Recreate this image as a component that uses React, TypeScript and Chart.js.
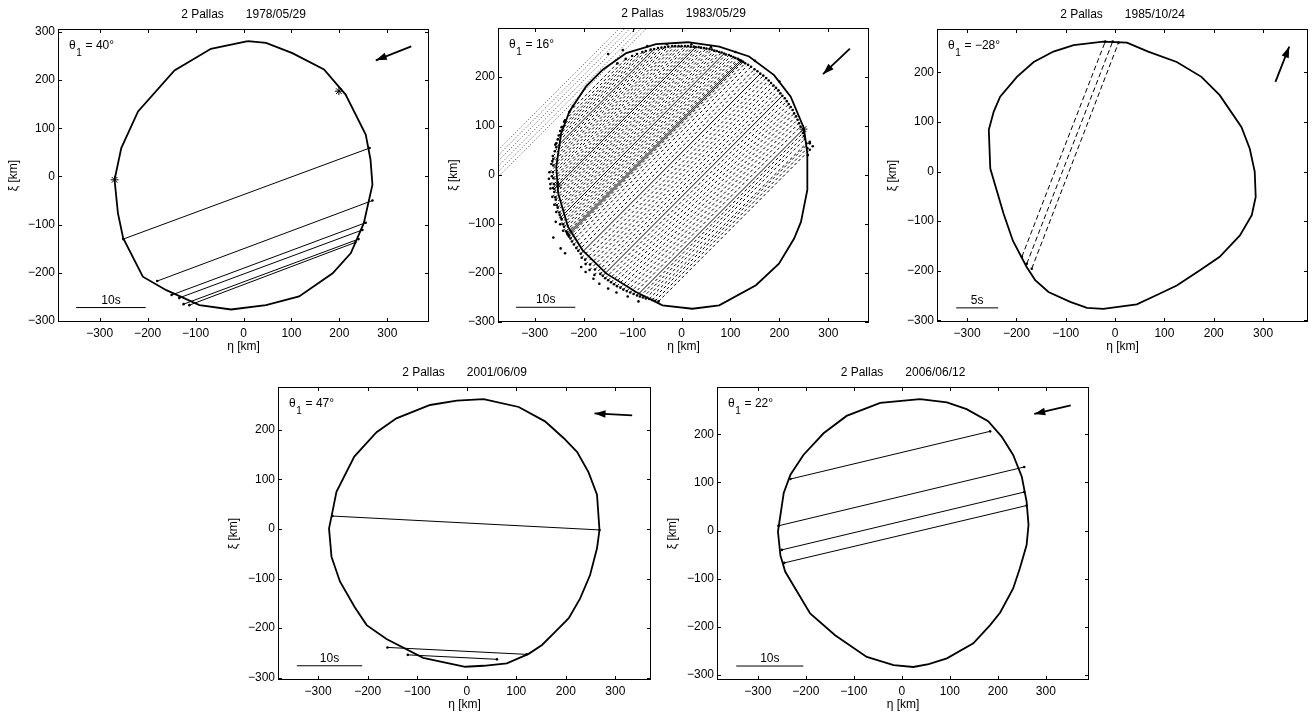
import React, { useEffect, useRef } from "react";
import { Chart, registerables } from "chart.js";

Chart.register(...registerables);

const FONT = "'Liberation Sans', Arial, Helvetica, sans-serif";
const TICK_VALUES = [-300, -200, -100, 0, 100, 200, 300];

// ---------- 2 Pallas 1978/05/29 ----------
const P1_ETA = [9, 47, 102, 168, 213, 255, 265, 269, 251, 224, 186, 116, 47, -26, -92, -161, -210, -251, -262, -269, -255, -220, -144, -68, 9];
const P1_XI = [281, 277, 256, 222, 170, 87, 35, -17, -97, -159, -201, -249, -267, -276, -267, -236, -208, -128, -76, -7, 59, 135, 220, 265, 281];
const P1_SOLID = [
  [-251, -130, 263, 59],
  [-180, -217, 269, -50],
  [-150, -246, 255, -96],
  [-134, -252, 248, -111],
  [-125, -265, 240, -130],
  [-113, -267, 233, -137],
];
const P1_STARS = [[-269, -7], [199, 177]];
const P1_ARROW = [[350, 270], [276, 241]];
const P1_BAR = [[-349, -272], [-204, -272]];

// ---------- 2 Pallas 1983/05/29 ----------
const P2_ETA = [13, 77, 138, 189, 223, 250, 257, 257, 244, 230, 199, 152, 77, 22, -39, -93, -154, -202, -232, -252, -256, -246, -229, -195, -161, -113, -52, 13];
const P2_XI = [270, 261, 241, 203, 159, 95, 44, -31, -96, -130, -181, -225, -266, -273, -266, -239, -201, -154, -106, -38, 16, 84, 129, 180, 214, 248, 266, 270];
const P2_SOLID = [
  [-256, 56, -56, 256],
  [-260, -29, 29, 260],
  [-247, -87, 87, 247],
  [-233, -121, 121, 233],
  [-231, -123, 123, 231],
  [-206, -161, 161, 206],
  [-161, -206, 206, 161],
  [-91, -246, 249, 93],
];
const P2_DASHED = [
  [-229, 128, -131, 227], [-238, 111, -114, 236], [-245, 97, -101, 242], [-248, 89, -91, 246],
  [-251, 80, -80, 250], [-253, 72, -73, 252], [-258, 61, -63, 255], [-259, 48, -48, 258],
  [-263, 38, -41, 259], [-262, 32, -34, 260], [-266, 22, -27, 261], [-262, 19, -19, 262],
  [-270, 5, -13, 262], [-263, 5, -6, 262], [-265, -3, 0, 262], [-262, -7, 7, 262],
  [-268, -19, 13, 262], [-261, -19, 19, 261], [-263, -27, 25, 261], [-260, -35, 35, 260],
  [-264, -45, 40, 259], [-258, -46, 46, 258], [-257, -51, 51, 257], [-260, -61, 57, 256],
  [-255, -62, 62, 255], [-253, -67, 67, 253], [-256, -76, 72, 252], [-250, -77, 77, 250],
  [-249, -82, 82, 249], [-245, -91, 91, 245], [-248, -101, 97, 244], [-242, -101, 101, 242],
  [-240, -106, 106, 240], [-242, -114, 110, 238], [-236, -115, 115, 236], [-234, -118, 118, 234],
  [-230, -126, 126, 230], [-227, -130, 130, 227], [-224, -136, 136, 224], [-220, -142, 142, 220],
  [-215, -149, 149, 215], [-211, -155, 155, 211], [-204, -169, 167, 202], [-197, -173, 173, 197],
  [-196, -182, 178, 192], [-187, -183, 183, 187], [-188, -194, 188, 182], [-177, -193, 193, 177],
  [-178, -204, 198, 172], [-166, -202, 202, 166], [-156, -211, 211, 156], [-150, -215, 215, 150],
  [-144, -219, 219, 144], [-138, -223, 223, 138], [-132, -227, 227, 132], [-125, -230, 230, 125],
  [-119, -234, 234, 119], [-112, -237, 237, 112], [-105, -240, 240, 105], [-98, -243, 243, 98],
  [-85, -248, 248, 85], [-79, -250, 250, 79], [-73, -252, 252, 73], [-66, -253, 255, 64],
  [-60, -255, 262, 67], [-54, -257, 257, 54], [-47, -258, 262, 51],
];
const P2_MISSES = [
  [-400, -30, 0, 370], [-400, -19, 0, 381], [-400, -8, 0, 392],
  [-400, 3, 0, 403], [-400, 14, 0, 414], [-400, 25, 0, 425],
];
const P2_EXTRA_DOTS = [
  [-262, -128], [-257, -96], [-247, -150], [-238, -160], [-205, -188], [-196, -198], [-180, -212],
  [-168, -222], [-150, -232], [-133, -240], [-110, -248], [-88, -258], [-268, -28], [-271, -8],
  [-264, 28], [-256, 64], [-240, 108], [-222, 140], [-150, 246], [-120, 254], [-70, 262], [-30, 266],
  [20, 266], [60, 260], [110, 250], [150, 232], [200, 190], [262, 64], [268, 58], [258, 40],
];
const P2_STARS = [[-252, -21], [249, 93]];
const P2_ARROW = [[344, 257], [289, 205]];
const P2_BAR = [[-338, -270], [-217, -270]];

// ---------- 2 Pallas 1985/10/24 ----------
const P3_ETA = [-24, 24, 67, 125, 175, 212, 256, 273, 283, 285, 277, 253, 212, 172, 125, 91, 44, -24, -57, -91, -135, -162, -179, -207, -226, -253, -256, -246, -233, -199, -165, -125, -84, -24];
const P3_XI = [262, 260, 242, 221, 191, 154, 90, 46, 0, -51, -88, -129, -172, -199, -230, -246, -268, -277, -275, -263, -243, -219, -193, -140, -85, 6, 84, 121, 151, 191, 221, 242, 255, 262];
const P3_DASHED = [
  [-189, -172, -20, 262],
  [-179, -186, -5, 262],
  [-169, -196, 7, 260],
];
const P3_ARROW = [[325, 181], [353, 252]];
const P3_BAR = [[-322, -275], [-237, -275]];

// ---------- 2 Pallas 2001/06/09 ----------
const P4_ETA = [34, 105, 158, 196, 223, 246, 263, 268, 263, 249, 229, 206, 179, 152, 125, 81, 34, -3, -88, -162, -202, -226, -256, -273, -278, -271, -263, -227, -182, -142, -74, -20, 34];
const P4_XI = [262, 246, 217, 183, 155, 114, 69, -2, -39, -93, -140, -180, -207, -234, -252, -271, -276, -278, -260, -222, -194, -158, -106, -56, 1, 35, 75, 146, 195, 223, 250, 259, 262];
const P4_SOLID = [
  [-271, 26, 268, -2],
  [-160, -239, 121, -253],
  [-119, -254, 61, -263],
];
const P4_ARROW = [[334, 229], [258, 233]];
const P4_BAR = [[-343, -276], [-211, -276]];

// ---------- 2 Pallas 2006/06/12 ----------
const P5_ETA = [38, 94, 135, 180, 208, 232, 250, 260, 264, 260, 246, 232, 205, 184, 149, 94, 56, 24, -17, -73, -139, -191, -222, -243, -253, -258, -246, -232, -205, -163, -115, -45, 38];
const P5_XI = [273, 266, 252, 227, 195, 157, 112, 60, 12, -30, -78, -120, -170, -196, -234, -265, -277, -283, -279, -262, -217, -172, -120, -85, -51, -2, 78, 116, 157, 202, 238, 265, 273];
const P5_SOLID = [
  [-232, 107, 184, 206],
  [-257, 10, 255, 132],
  [-250, -40, 255, 80],
  [-245, -67, 260, 52],
];
const P5_ARROW = [[352, 260], [276, 242]];
const P5_BAR = [[-345, -281], [-205, -281]];

const ML = 58, MT = 28, MR = 4, MB = 36;

const PANELS = [
  { key: "p1", date: "1978/05/29", theta: "40°", area: { l: 58, t: 29, r: 430, b: 322 }, xr: [-387, 387], yr: [-302, 306],
    eta: P1_ETA, xi: P1_XI, solid: P1_SOLID, dashed: [], misses: [], extra: [], stars: P1_STARS, arrow: P1_ARROW, bar: P1_BAR, barLabel: "10s", dash: [4, 3] },
  { key: "p2", date: "1983/05/29", theta: "16°", area: { l: 498, t: 28, r: 870, b: 322 }, xr: [-375, 383], yr: [-300, 299],
    eta: P2_ETA, xi: P2_XI, solid: P2_SOLID, dashed: P2_DASHED, misses: P2_MISSES, extra: P2_EXTRA_DOTS, stars: P2_STARS, arrow: P2_ARROW, bar: P2_BAR, barLabel: "10s", dash: [3, 2.5] },
  { key: "p3", date: "1985/10/24", theta: "\u221228°", area: { l: 937, t: 29, r: 1308, b: 322 }, xr: [-361, 391], yr: [-303.5, 287.5],
    eta: P3_ETA, xi: P3_XI, solid: [], dashed: P3_DASHED, misses: [], extra: [], stars: [], arrow: P3_ARROW, bar: P3_BAR, barLabel: "5s", dash: [5, 3] },
  { key: "p4", date: "2001/06/09", theta: "47°", area: { l: 278, t: 387, r: 651, b: 680 }, xr: [-381, 372], yr: [-304.7, 286.3],
    eta: P4_ETA, xi: P4_XI, solid: P4_SOLID, dashed: [], misses: [], extra: [], stars: [], arrow: P4_ARROW, bar: P4_BAR, barLabel: "10s", dash: [4, 3] },
  { key: "p5", date: "2006/06/12", theta: "22°", area: { l: 717, t: 387, r: 1089, b: 680 }, xr: [-385, 390], yr: [-310, 298],
    eta: P5_ETA, xi: P5_XI, solid: P5_SOLID, dashed: [], misses: [], extra: [], stars: [], arrow: P5_ARROW, bar: P5_BAR, barLabel: "10s", dash: [4, 3] },
];

const fmt = (v: any) => (Number(v) < 0 ? "\u2212" + Math.abs(Number(v)) : String(v));

function lineDs(points: number[][], width: number, dash: number[] = [], color = "#000") {
  return {
    data: points.map((q) => ({ x: q[0], y: q[1] })),
    showLine: true,
    borderColor: color,
    borderWidth: width,
    borderDash: dash,
    pointRadius: 0,
    tension: 0,
    fill: false,
  };
}

function makeDecor(p: any) {
  return {
    id: "decor" + p.key,
    afterDraw(chart: any) {
      const ctx = chart.ctx;
      const a = chart.chartArea;
      const xs = chart.scales.x;
      const ys = chart.scales.y;
      ctx.save();
      // arrow head
      const x0 = xs.getPixelForValue(p.arrow[0][0]), y0 = ys.getPixelForValue(p.arrow[0][1]);
      const x1 = xs.getPixelForValue(p.arrow[1][0]), y1 = ys.getPixelForValue(p.arrow[1][1]);
      const ang = Math.atan2(y1 - y0, x1 - x0);
      const L = 11, W = 3.8;
      const bx = x1 - L * Math.cos(ang), by = y1 - L * Math.sin(ang);
      ctx.fillStyle = "#000";
      ctx.beginPath();
      ctx.moveTo(x1, y1);
      ctx.lineTo(bx + W * Math.sin(ang), by - W * Math.cos(ang));
      ctx.lineTo(bx - W * Math.sin(ang), by + W * Math.cos(ang));
      ctx.closePath();
      ctx.fill();
      // frame
      ctx.strokeStyle = "#000";
      ctx.lineWidth = 1;
      ctx.setLineDash([]);
      ctx.strokeRect(a.left + 0.5, a.top + 0.5, a.right - a.left - 1, a.bottom - a.top - 1);
      // inward ticks on all sides
      ctx.beginPath();
      xs.ticks.forEach((t: any) => {
        const px = Math.round(xs.getPixelForValue(t.value)) + 0.5;
        ctx.moveTo(px, a.bottom); ctx.lineTo(px, a.bottom - 4);
        ctx.moveTo(px, a.top); ctx.lineTo(px, a.top + 4);
      });
      ys.ticks.forEach((t: any) => {
        const py = Math.round(ys.getPixelForValue(t.value)) + 0.5;
        ctx.moveTo(a.left, py); ctx.lineTo(a.left + 4, py);
        ctx.moveTo(a.right, py); ctx.lineTo(a.right - 4, py);
      });
      ctx.stroke();
      // title
      ctx.font = "12px " + FONT;
      ctx.textBaseline = "alphabetic";
      ctx.textAlign = "left";
      const t1 = "2 Pallas", t2 = p.date, gap = 22;
      const w1 = ctx.measureText(t1).width, w2 = ctx.measureText(t2).width;
      const cx = (a.left + a.right) / 2;
      const sx = cx - (w1 + gap + w2) / 2;
      ctx.fillText(t1, sx, a.top - 11);
      ctx.fillText(t2, sx + w1 + gap, a.top - 11);
      // theta label
      const tx = a.left + 11, ty = a.top + 20;
      ctx.fillText("\u03b8", tx, ty);
      const wt = ctx.measureText("\u03b8").width;
      ctx.font = "10px " + FONT;
      ctx.fillText("1", tx + wt + 0.5, ty + 7);
      const ws = ctx.measureText("1").width;
      ctx.font = "12px " + FONT;
      ctx.fillText(" = " + p.theta, tx + wt + ws + 1, ty);
      // scale bar label
      const bcx = (xs.getPixelForValue(p.bar[0][0]) + xs.getPixelForValue(p.bar[1][0])) / 2;
      const bcy = ys.getPixelForValue(p.bar[0][1]);
      ctx.textAlign = "center";
      ctx.fillText(p.barLabel, bcx, bcy - 4);
      // axis titles
      ctx.fillText("\u03b7 [km]", cx, a.bottom + 28);
      ctx.save();
      ctx.translate(a.left - 44, (a.top + a.bottom) / 2);
      ctx.rotate(-Math.PI / 2);
      ctx.textBaseline = "middle";
      ctx.fillText("\u03be [km]", 0, 0);
      ctx.restore();
      ctx.restore();
    },
  };
}

function Panel({ p }: { p: any }) {
  const ref = useRef<HTMLCanvasElement>(null);
  const W = p.area.r - p.area.l + ML + MR;
  const H = p.area.b - p.area.t + MT + MB;
  useEffect(() => {
    const datasets: any[] = [];
    datasets.push(lineDs(p.eta.map((e: number, i: number) => [e, p.xi[i]]), 1.8));
    p.solid.forEach((c: number[]) => datasets.push(lineDs([[c[0], c[1]], [c[2], c[3]]], 1)));
    p.dashed.forEach((c: number[]) => datasets.push(lineDs([[c[0], c[1]], [c[2], c[3]]], 1, p.dash)));
    p.misses.forEach((c: number[]) => datasets.push(lineDs([[c[0], c[1]], [c[2], c[3]]], 1, [1, 2], "#444")));
    const dots: any[] = [];
    [...p.solid, ...p.dashed].forEach((c: number[]) => {
      dots.push({ x: c[0], y: c[1] }, { x: c[2], y: c[3] });
    });
    p.extra.forEach((d: number[]) => dots.push({ x: d[0], y: d[1] }));
    datasets.push({ data: dots, showLine: false, pointRadius: 1.3, pointStyle: "circle", backgroundColor: "#000", borderWidth: 0 });
    if (p.stars.length) {
      datasets.push({ data: p.stars.map((s: number[]) => ({ x: s[0], y: s[1] })), showLine: false, pointRadius: 4, pointStyle: "star", borderColor: "#000", borderWidth: 1, backgroundColor: "#000" });
    }
    datasets.push(lineDs(p.bar, 1));
    datasets.push(lineDs(p.arrow, 1.8));

    const tickFont = { family: FONT, size: 12 };
    const chart = new Chart(ref.current as HTMLCanvasElement, {
      type: "scatter",
      data: { datasets },
      options: {
        animation: false,
        responsive: false,
        maintainAspectRatio: false,
        events: [],
        layout: { padding: { left: 0, top: MT, right: MR, bottom: 0 } },
        plugins: { legend: { display: false }, tooltip: { enabled: false }, title: { display: false } },
        scales: {
          x: {
            type: "linear",
            position: "bottom",
            min: p.xr[0],
            max: p.xr[1],
            grid: { display: false, drawTicks: false },
            border: { display: false },
            ticks: { autoSkip: false, maxRotation: 0, minRotation: 0, padding: 4, color: "#000", font: tickFont, callback: fmt },
            afterBuildTicks: (s: any) => { s.ticks = TICK_VALUES.filter((v) => v >= s.min && v <= s.max).map((v) => ({ value: v })); },
            afterFit: (s: any) => { s.height = MB; },
          },
          y: {
            type: "linear",
            position: "left",
            min: p.yr[0],
            max: p.yr[1],
            grid: { display: false, drawTicks: false },
            border: { display: false },
            ticks: { autoSkip: false, padding: 3, color: "#000", font: tickFont, callback: fmt },
            afterBuildTicks: (s: any) => { s.ticks = TICK_VALUES.filter((v) => v >= s.min && v <= s.max).map((v) => ({ value: v })); },
            afterFit: (s: any) => { s.width = ML; },
          },
        },
      },
      plugins: [makeDecor(p)],
    } as any);
    return () => chart.destroy();
  }, []);
  return (
    <canvas
      ref={ref}
      width={W}
      height={H}
      style={{ position: "absolute", left: p.area.l - ML, top: p.area.t - MT, width: W, height: H }}
    />
  );
}

export default function App() {
  return (
    <div style={{ position: "fixed", left: 0, top: 0, width: 1312, height: 718, background: "#fff", overflow: "hidden" }}>
      {PANELS.map((p) => (
        <Panel key={p.key} p={p} />
      ))}
    </div>
  );
}
